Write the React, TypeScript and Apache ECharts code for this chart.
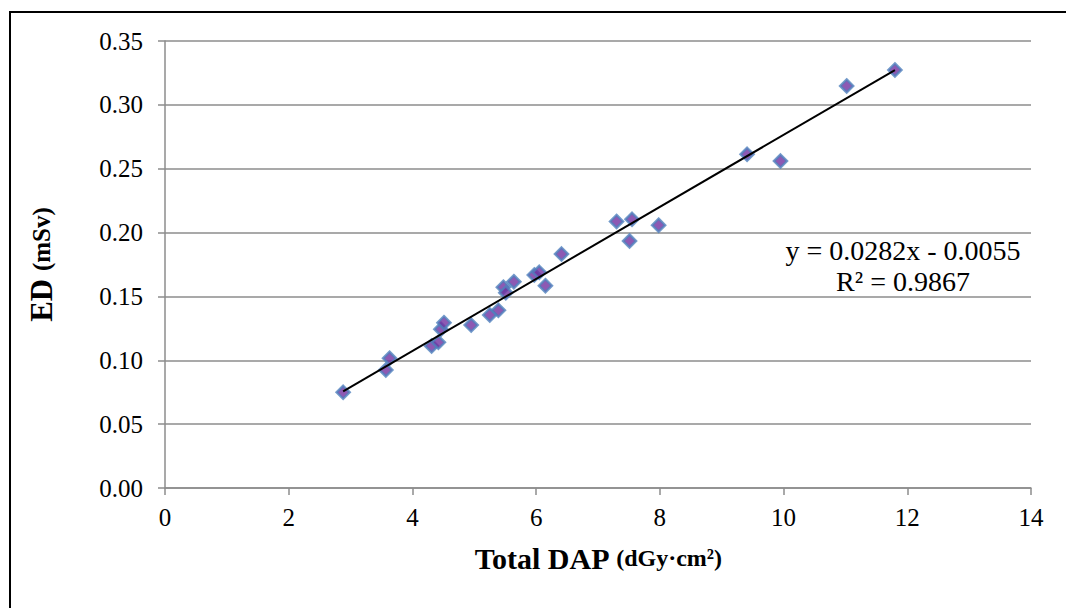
import React, { useEffect, useRef } from "react";
import * as echarts from "echarts";

const dapValues = [2.88, 3.57, 3.63, 4.31, 4.42, 4.46, 4.51, 4.95, 5.25, 5.39, 5.47, 5.51, 5.64, 5.97, 6.05, 6.15, 6.41, 7.30, 7.55, 7.51, 7.98, 9.41, 9.95, 11.02, 11.80];
const edValues = [0.0749, 0.0924, 0.1016, 0.1112, 0.1141, 0.1243, 0.1294, 0.1276, 0.1355, 0.1391, 0.1572, 0.1529, 0.1615, 0.1668, 0.1689, 0.1584, 0.1832, 0.2087, 0.2104, 0.1934, 0.2058, 0.2613, 0.2560, 0.3148, 0.3273];
const slope = 0.0282;
const intercept = -0.0055;
const xTicks = [0, 2, 4, 6, 8, 10, 12, 14];
const yTicks = [0, 0.05, 0.1, 0.15, 0.2, 0.25, 0.3, 0.35];

const FONT = "'Liberation Serif', 'Times New Roman', serif";

export default function App() {
  const ref = useRef<HTMLDivElement>(null);
  useEffect(() => {
    if (!ref.current) return;
    const chart = echarts.init(ref.current, undefined, { renderer: "svg" });
    const points = dapValues.map((x, i) => [x, edValues[i]]);
    const xMin = Math.min(...dapValues);
    const xMax = Math.max(...dapValues);
    const trend = [
      [xMin, slope * xMin + intercept],
      [xMax, slope * xMax + intercept],
    ];
    chart.setOption({
      animation: false,
      backgroundColor: "#ffffff",
      grid: { left: 165, right: 35, top: 41, bottom: 120, containLabel: false },
      xAxis: {
        type: "value",
        min: xTicks[0],
        max: xTicks[xTicks.length - 1],
        interval: 2,
        splitLine: { show: false },
        axisLine: { show: true, onZero: false, lineStyle: { color: "#8c8c8c", width: 1.5 } },
        axisTick: { show: true, length: 7, lineStyle: { color: "#8c8c8c", width: 1.5 } },
        axisLabel: { color: "#000", fontFamily: FONT, fontSize: 25, margin: 17 },
        name: "{a|Total DAP }{b|(dGy·cm²)}",
        nameLocation: "middle",
        nameGap: 55,
        nameTextStyle: {
          rich: {
            a: { fontFamily: FONT, fontSize: 30, fontWeight: "bold", color: "#000" },
            b: { fontFamily: FONT, fontSize: 24, fontWeight: "bold", color: "#000" },
          },
        },
      },
      yAxis: {
        type: "value",
        min: yTicks[0],
        max: yTicks[yTicks.length - 1],
        interval: 0.05,
        splitLine: { show: true, lineStyle: { color: "#8c8c8c", width: 1.5 } },
        axisLine: { show: true, lineStyle: { color: "#8c8c8c", width: 1.5 } },
        axisTick: { show: true, length: 7, lineStyle: { color: "#8c8c8c", width: 1.5 } },
        axisLabel: {
          color: "#000",
          fontFamily: FONT,
          fontSize: 25,
          margin: 22,
          formatter: (v: number) => v.toFixed(2),
        },
        name: "{a|ED }{b|(mSv)}",
        nameLocation: "middle",
        nameGap: 108,
        nameRotate: 90,
        nameTextStyle: {
          rich: {
            a: { fontFamily: FONT, fontSize: 31, fontWeight: "bold", color: "#000" },
            b: { fontFamily: FONT, fontSize: 25, fontWeight: "bold", color: "#000" },
          },
        },
      },
      series: [
        {
          type: "line",
          data: trend,
          symbol: "none",
          lineStyle: { color: "#000", width: 2 },
          z: 3,
        },
        {
          type: "scatter",
          data: points,
          symbol: "diamond",
          symbolSize: 13,
          itemStyle: { color: "#7030A0", borderColor: "#4F81BD", borderWidth: 2.5 },
          z: 2,
        },
      ],
      graphic: [
        {
          type: "polyline",
          shape: { points: [[10, 700], [10, 12], [1200, 12]] },
          style: { fill: "none", stroke: "#000", lineWidth: 2 },
          silent: true,
        },
        {
          type: "text",
          x: 903,
          y: 250,
          style: {
            text: "y = 0.0282x - 0.0055",
            fontFamily: FONT,
            fontSize: 28,
            fill: "#000",
            align: "center",
            verticalAlign: "middle",
          },
        },
        {
          type: "text",
          x: 903,
          y: 281,
          style: {
            text: "R² = 0.9867",
            fontFamily: FONT,
            fontSize: 28,
            fill: "#000",
            align: "center",
            verticalAlign: "middle",
          },
        },
      ],
    });
    return () => chart.dispose();
  }, []);
  return (
    <div
      ref={ref}
      style={{ position: "absolute", left: 0, top: 0, width: 1066, height: 608 }}
    />
  );
}
